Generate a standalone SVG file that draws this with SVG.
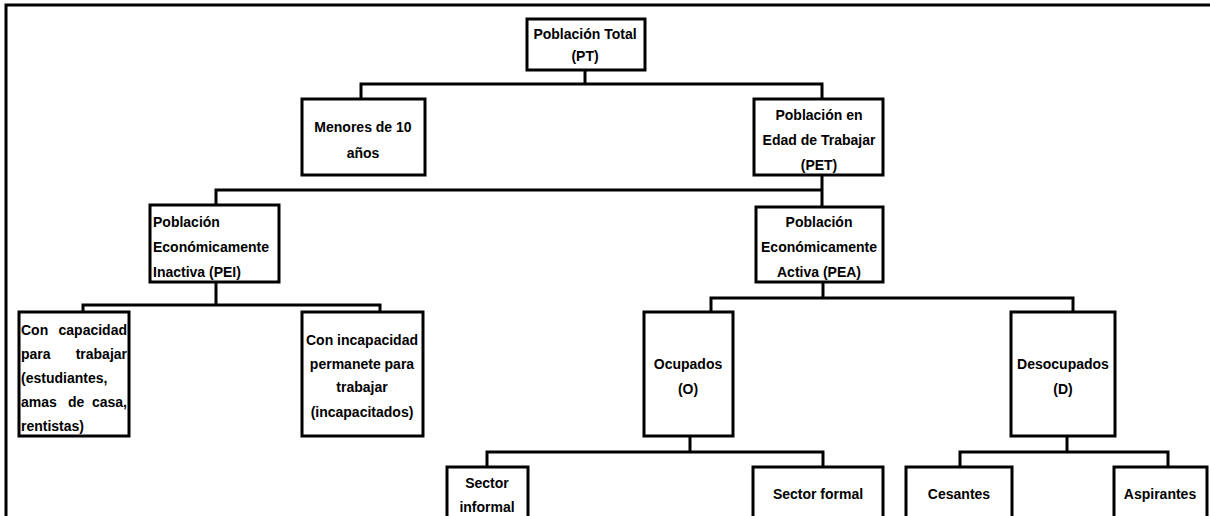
<svg xmlns="http://www.w3.org/2000/svg" width="1210" height="516" viewBox="0 0 1210 516">
<style>
.box{fill:#fff;stroke:#000;stroke-width:3}
.ln{fill:none;stroke:#000;stroke-width:3}
text{font-family:"Liberation Sans",Arial,sans-serif;font-weight:bold;font-size:14px;fill:#000}
.c{text-anchor:middle}
</style>
<rect width="1210" height="516" fill="#fff"/>
<path class="ln" d="M6,516 V5 H1210"/>
<g id="connectors">
<path class="ln" d="M585,70 V84 M361,99 V84 H822 V99"/>
<path class="ln" d="M822,175 V207 M822,190 H216 V205"/>
<path class="ln" d="M216,282 V305 M83,312 V305 H380 V312"/>
<path class="ln" d="M823,282 V298 M711,312 V298 H1073 V312"/>
<path class="ln" d="M690,436 V452 M487,467 V452 H823 V467"/>
<path class="ln" d="M1067,436 V452 M960,467 V452 H1168 V467"/>
</g>
<g id="pt"><rect class="box" x="527" y="19" width="118" height="51"/>
<text class="c" x="585" y="39">Población Total</text><text class="c" x="585" y="61">(PT)</text></g>
<g id="menores"><rect class="box" x="302" y="99" width="123" height="76"/>
<text class="c" x="363" y="132">Menores de 10</text><text class="c" x="363" y="158">años</text></g>
<g id="pet"><rect class="box" x="754" y="99" width="129" height="76"/>
<text class="c" x="819" y="120">Población en</text><text class="c" x="819" y="145">Edad de Trabajar</text><text class="c" x="819" y="170">(PET)</text></g>
<g id="pei"><rect class="box" x="150" y="205" width="129" height="77"/>
<text x="153" y="227">Población</text><text x="153" y="252">Económicamente</text><text x="153" y="277">Inactiva (PEI)</text></g>
<g id="pea"><rect class="box" x="756" y="207" width="127" height="75"/>
<text class="c" x="819" y="227">Población</text><text class="c" x="819" y="252">Económicamente</text><text class="c" x="819" y="277">Activa (PEA)</text></g>
<g id="con-capacidad"><rect class="box" x="19" y="312" width="110" height="124"/>
<text y="335"><tspan x="21">Con </tspan><tspan x="127" text-anchor="end">capacidad</tspan></text>
<text y="359"><tspan x="21">para </tspan><tspan x="127" text-anchor="end">trabajar</tspan></text>
<text x="21" y="383">(estudiantes,</text>
<text y="407"><tspan x="21">amas </tspan><tspan x="68">de </tspan><tspan x="127" text-anchor="end">casa,</tspan></text>
<text x="21" y="431">rentistas)</text></g>
<g id="con-incapacidad"><rect class="box" x="302" y="312" width="121" height="124"/>
<text class="c" x="362" y="345">Con incapacidad</text><text class="c" x="362" y="369">permanete para</text><text class="c" x="362" y="392">trabajar</text><text class="c" x="362" y="417">(incapacitados)</text></g>
<g id="ocupados"><rect class="box" x="644" y="312" width="89" height="124"/>
<text class="c" x="688" y="369">Ocupados</text><text class="c" x="688" y="394">(O)</text></g>
<g id="desocupados"><rect class="box" x="1011" y="312" width="104" height="124"/>
<text class="c" x="1063" y="369">Desocupados</text><text class="c" x="1063" y="394">(D)</text></g>
<g id="sector-informal"><rect class="box" x="447" y="467" width="81" height="70"/>
<text class="c" x="487" y="488">Sector</text><text class="c" x="487" y="512">informal</text></g>
<g id="sector-formal"><rect class="box" x="753" y="467" width="130" height="70"/>
<text class="c" x="818" y="499">Sector formal</text></g>
<g id="cesantes"><rect class="box" x="906" y="467" width="106" height="70"/>
<text class="c" x="959" y="499">Cesantes</text></g>
<g id="aspirantes"><rect class="box" x="1114" y="467" width="93" height="70"/>
<text class="c" x="1160" y="499">Aspirantes</text></g>
</svg>
